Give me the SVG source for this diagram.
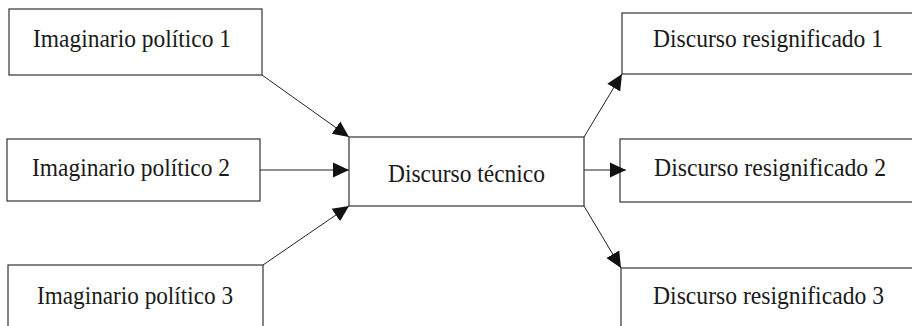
<svg xmlns="http://www.w3.org/2000/svg" width="912" height="326" viewBox="0 0 912 326">
<defs>
<style>
.box{fill:#fff;stroke:#333;stroke-width:1.2}
.lbl{font-family:"Liberation Serif","Times New Roman",serif;font-size:25px;fill:#1a1a1a}
.con{fill:none;stroke:#222;stroke-width:1}
</style>
<marker id="ah" markerUnits="userSpaceOnUse" markerWidth="17" markerHeight="17" viewBox="0 0 17 17" refX="16" refY="8.5" orient="auto">
<path d="M0,1 L16,8.5 L0,16 z" fill="#111"/>
</marker>
</defs>
<rect width="912" height="326" fill="#fff"/>
<g id="imaginario1">
<rect class="box" x="9" y="9" width="253" height="66"/>
<text class="lbl" x="33" y="47" textLength="198" lengthAdjust="spacingAndGlyphs">Imaginario político 1</text>
</g>
<g id="imaginario2">
<rect class="box" x="7" y="139" width="253" height="62"/>
<text class="lbl" x="32" y="176" textLength="198" lengthAdjust="spacingAndGlyphs">Imaginario político 2</text>
</g>
<g id="imaginario3">
<rect class="box" x="8" y="265" width="255" height="80"/>
<text class="lbl" x="37" y="304" textLength="196" lengthAdjust="spacingAndGlyphs">Imaginario político 3</text>
</g>
<g id="tecnico">
<rect class="box" x="349" y="137" width="235" height="69"/>
<text class="lbl" x="388" y="182" textLength="157" lengthAdjust="spacingAndGlyphs">Discurso técnico</text>
</g>
<g id="resignificado1">
<rect class="box" x="622" y="13" width="320" height="61"/>
<text class="lbl" x="653" y="47" textLength="230" lengthAdjust="spacingAndGlyphs">Discurso resignificado 1</text>
</g>
<g id="resignificado2">
<rect class="box" x="620" y="139" width="320" height="63"/>
<text class="lbl" x="654" y="176" textLength="232" lengthAdjust="spacingAndGlyphs">Discurso resignificado 2</text>
</g>
<g id="resignificado3">
<rect class="box" x="621" y="268" width="320" height="80"/>
<text class="lbl" x="653" y="304" textLength="231" lengthAdjust="spacingAndGlyphs">Discurso resignificado 3</text>
</g>
<g id="connectors">
<line class="con" x1="262" y1="75" x2="349" y2="137" marker-end="url(#ah)"/>
<line class="con" x1="260" y1="170" x2="349" y2="170" marker-end="url(#ah)"/>
<line class="con" x1="263" y1="265" x2="349" y2="206" marker-end="url(#ah)"/>
<line class="con" x1="584" y1="137" x2="622" y2="74" marker-end="url(#ah)"/>
<line class="con" x1="584" y1="170" x2="626" y2="170" marker-end="url(#ah)"/>
<line class="con" x1="584" y1="206" x2="621" y2="268" marker-end="url(#ah)"/>
</g>
</svg>
